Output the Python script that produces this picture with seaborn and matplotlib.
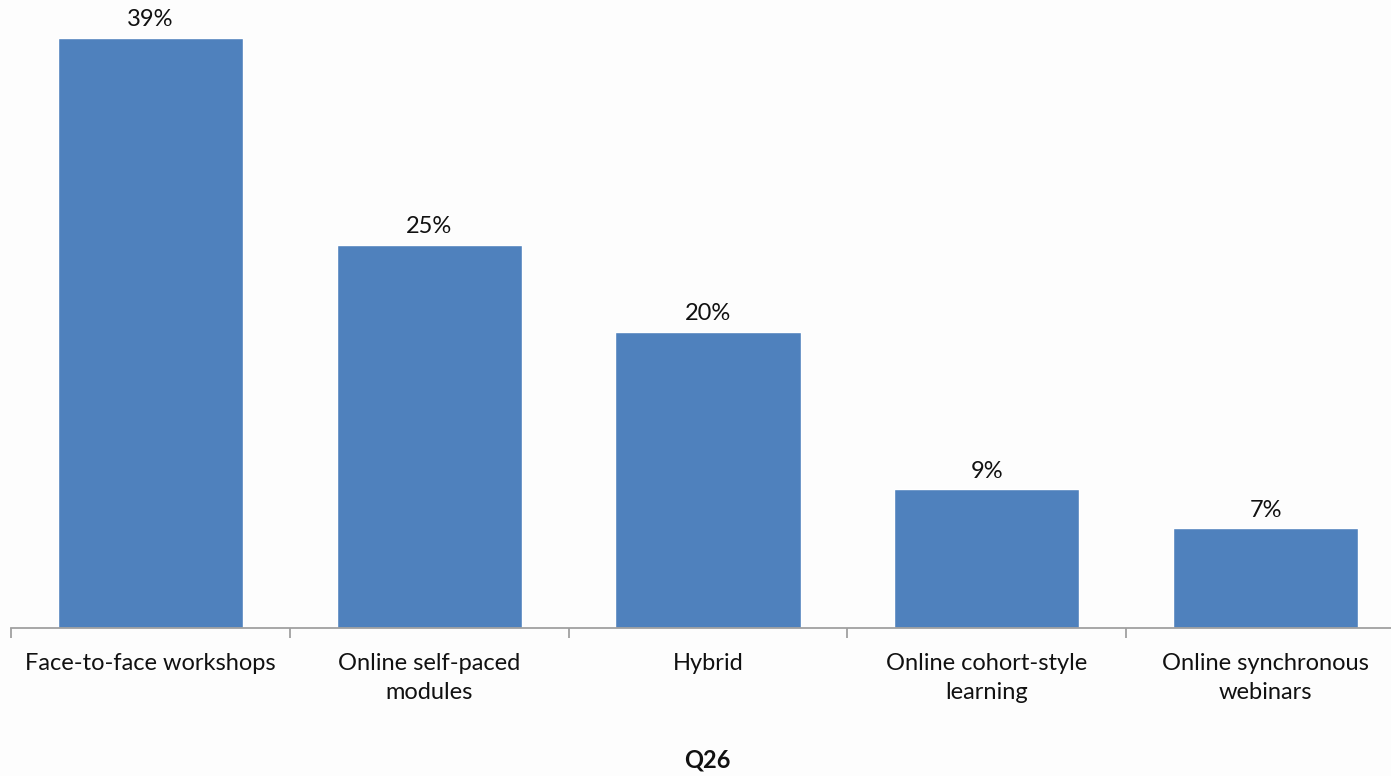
import matplotlib
matplotlib.use("Agg")
import matplotlib.pyplot as plt
import seaborn as sns
import pandas as pd
import numpy as np

categories = ["Face-to-face workshops", "Online self-paced\nmodules", "Hybrid",
              "Online cohort-style\nlearning", "Online synchronous\nwebinars"]
values = [39.1, 25.4, 19.6, 9.2, 6.6]
labels = ["39%", "25%", "20%", "9%", "7%"]
xlabel = "Q26"

sns.set_theme(style="white")
plt.rcParams['font.family'] = ['Lato', 'DejaVu Sans']

df = pd.DataFrame({"cat": categories, "val": values})

fig = plt.figure(figsize=(13.91, 7.76), dpi=100)
fig.patch.set_facecolor("#fdfdfd")
W, H = 1391, 776
ax = fig.add_axes([11 / W, (H - 628) / H, 1394 / W, 628 / H])
ax.set_facecolor("none")

sns.barplot(data=df, x="cat", y="val", color="#4F81BD", saturation=1,
            width=0.664, ax=ax)
ax.set_xlim(-0.5, len(categories) - 0.5)
ax.set_ylim(0, 41.6)

for i, (v, lab) in enumerate(zip(values, labels)):
    ax.text(i, v + 1.2, lab, ha="center", va="center", fontsize=17, color="#111111")

for s in ["top", "right", "left"]:
    ax.spines[s].set_visible(False)
ax.spines["bottom"].set_color("#a0a0a0")
ax.spines["bottom"].set_linewidth(1.3)
ax.set_yticks([])
ax.set_xticks(range(len(categories)))
ax.set_xticklabels(categories, fontsize=17, color="#111111", linespacing=1.45)
ax.tick_params(axis="x", which="major", length=0, pad=18)
ax.set_xticks(np.arange(-0.5, len(categories), 1.0), minor=True)
ax.tick_params(axis="x", which="minor", length=7, width=1.3, color="#a0a0a0", bottom=True)
ax.set_xlabel("")
ax.set_ylabel("")

fig.text(707 / W, 1 - 760 / H, xlabel, ha="center", va="center",
         fontsize=17, fontweight="bold", color="#111111")

fig.savefig("out.png", dpi=100, facecolor=fig.get_facecolor())
